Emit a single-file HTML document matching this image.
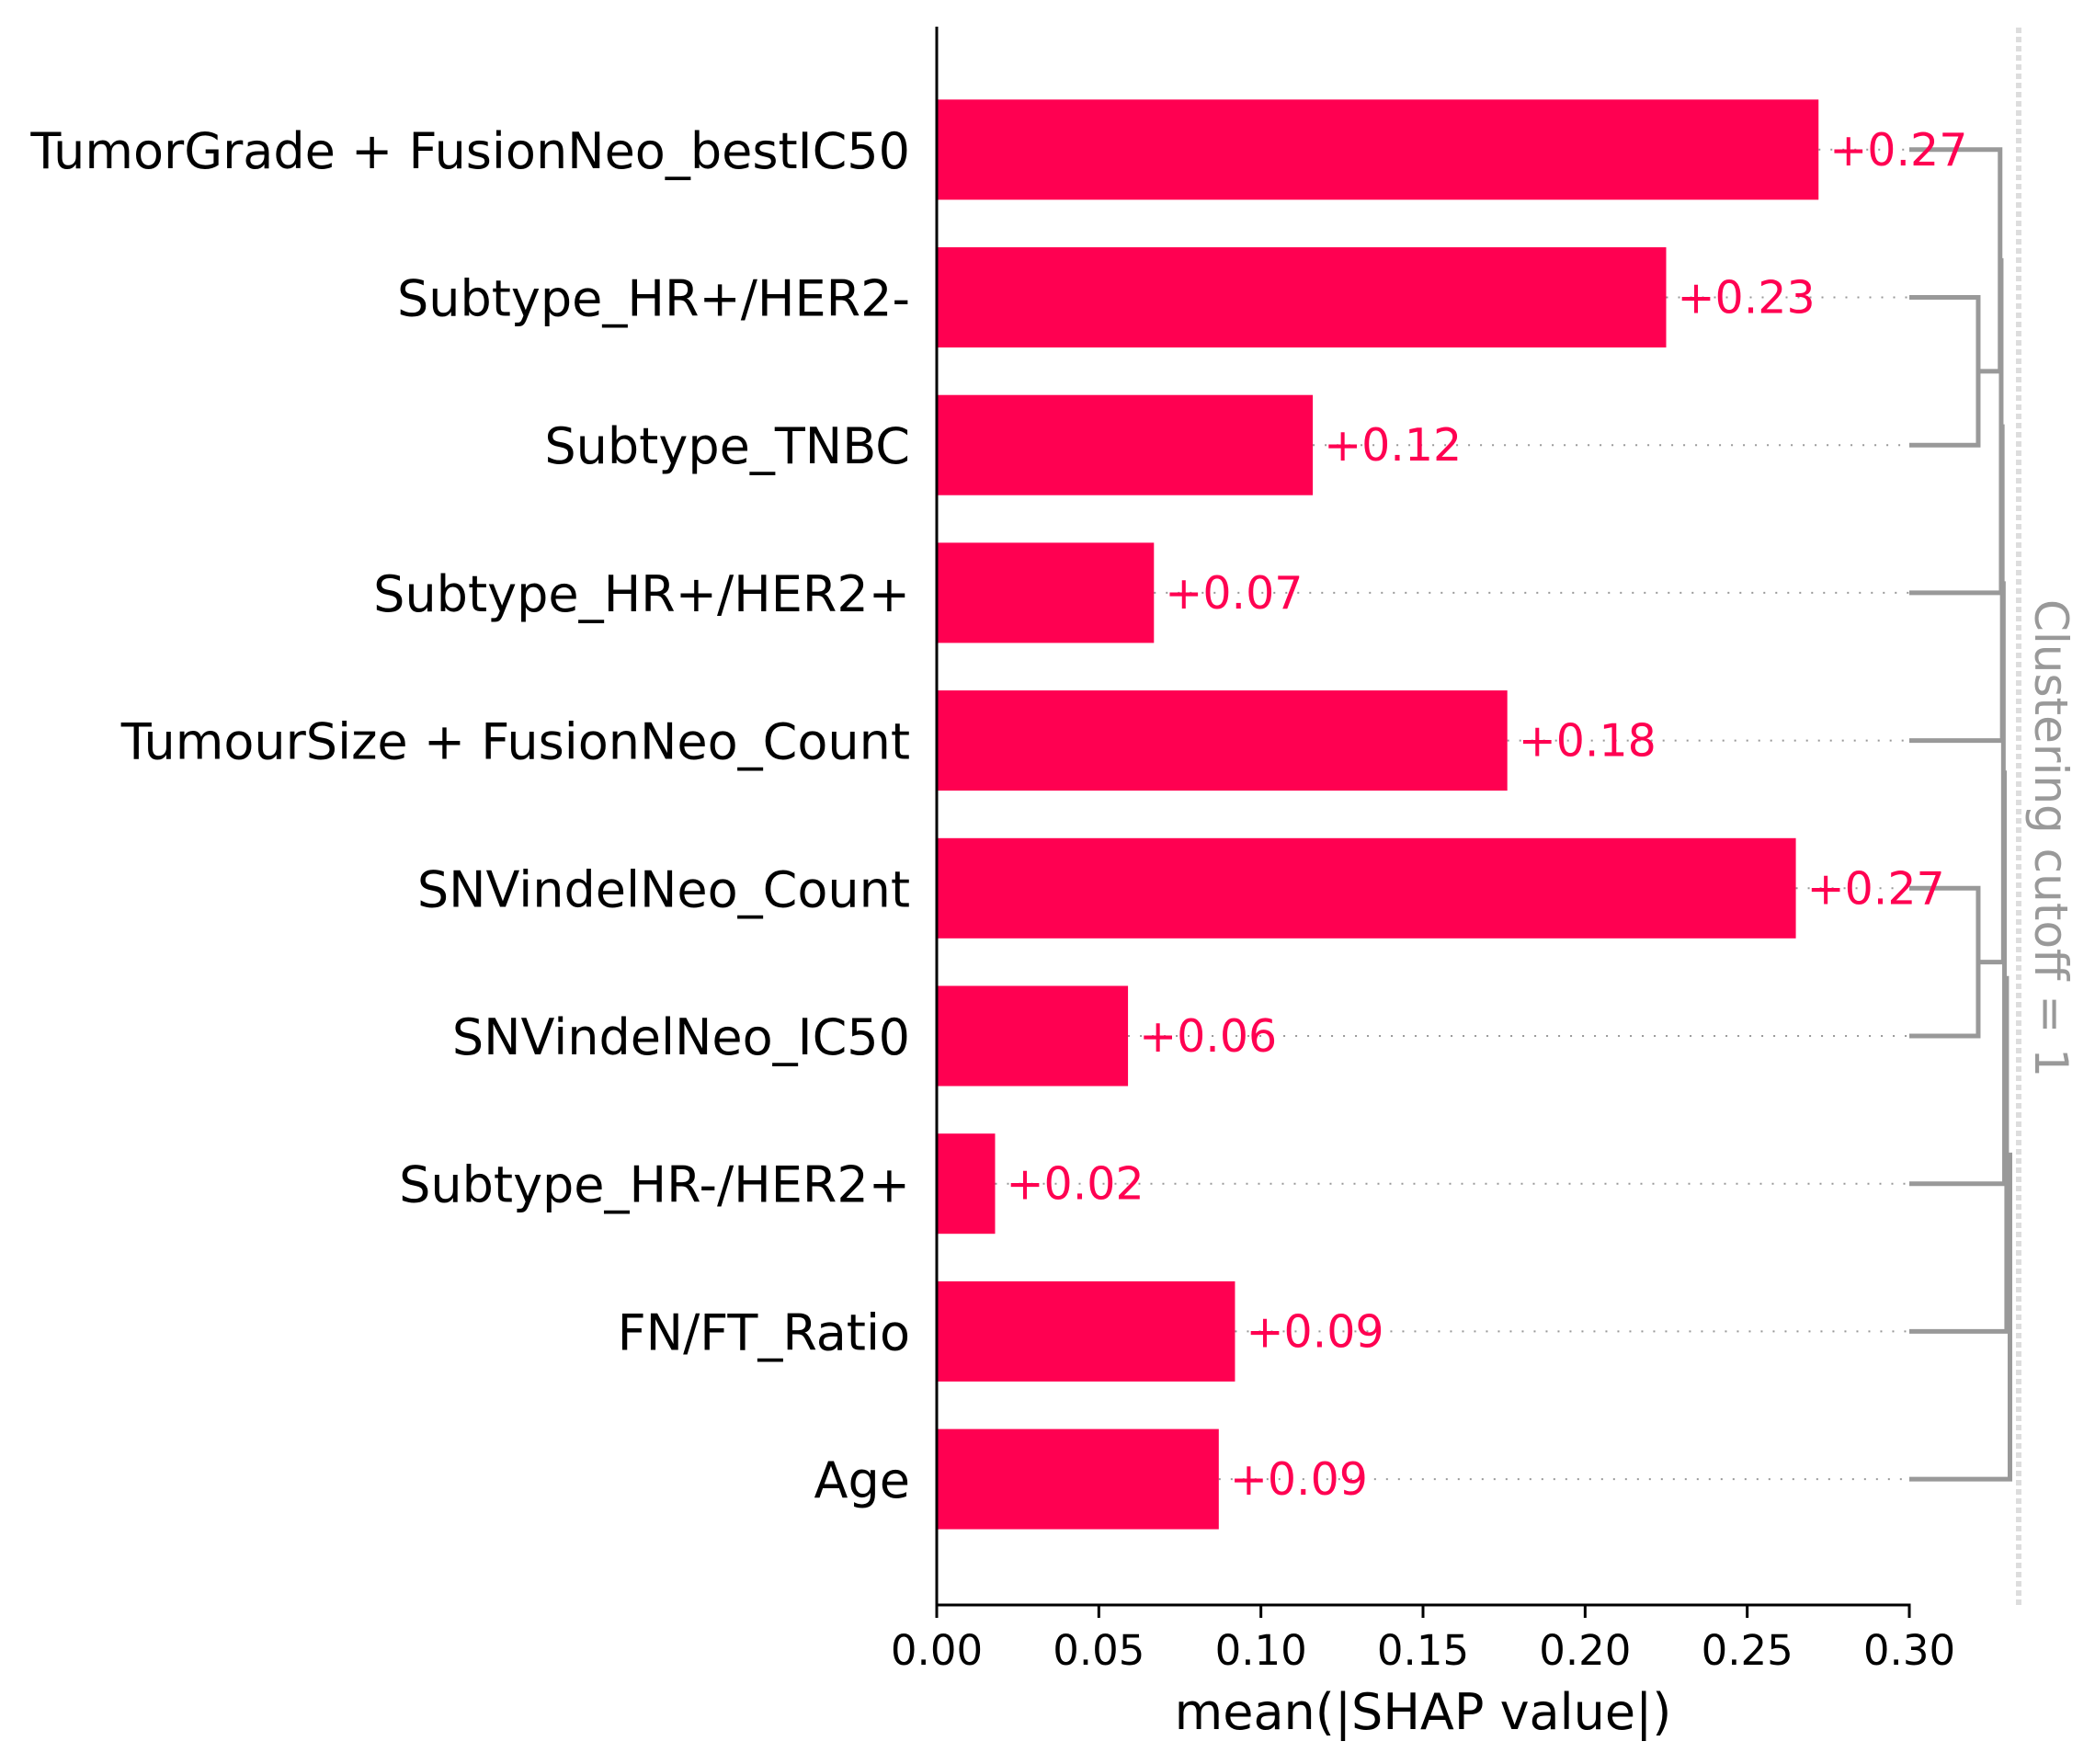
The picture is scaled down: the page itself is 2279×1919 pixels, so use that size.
<!DOCTYPE html>
<html><head><meta charset="utf-8"><style>
html,body{margin:0;padding:0;background:#fff;}
svg{display:block;font-family:"DejaVu Sans","Liberation Sans",sans-serif;}
</style></head><body>
<svg id="chart" width="2279" height="1919" viewBox="0 0 2279 1919" xmlns="http://www.w3.org/2000/svg">
<rect width="2279" height="1919" fill="#fff"/>
<g id="dendro"></g>
<g id="guides"></g>
<g id="bars"></g>
<g id="axes"></g>
</svg>
<script>
const features = ["TumorGrade + FusionNeo_bestIC50","Subtype_HR+/HER2-","Subtype_TNBC","Subtype_HR+/HER2+","TumourSize + FusionNeo_Count","SNVindelNeo_Count","SNVindelNeo_IC50","Subtype_HR-/HER2+","FN/FT_Ratio","Age"];
const values = [0.272, 0.225, 0.116, 0.067, 0.176, 0.265, 0.059, 0.018, 0.092, 0.087];
const xTicks = [0, 0.05, 0.10, 0.15, 0.20, 0.25, 0.30];
const xTickLabels = ["0.00","0.05","0.10","0.15","0.20","0.25","0.30"];
// dendrogram merges: [left node, right node, distance]; leaves 0..9, new nodes 10+
const merges = [[1,2,0.63],[0,10,0.83],[5,6,0.63],[11,3,0.84],[13,4,0.85],[14,12,0.86],[15,7,0.87],[16,8,0.89],[17,9,0.92]];
const cutoff = 1;

const NS="http://www.w3.org/2000/svg";
const X0=1019, X1=2077, XMAX=0.30;
const xs=v=>X0+(v/XMAX)*(X1-X0);
const ROW0=162.8, ROWH=160.7;
const ys=i=>ROW0+i*ROWH;
const BARH=109;
const DX0=2077, DX1=2196;
const dx=d=>DX0+(d/cutoff)*(DX1-DX0);
function mk(tag,attrs,parent,text){const e=document.createElementNS(NS,tag);for(const k in attrs)e.setAttribute(k,attrs[k]);if(text!==undefined)e.textContent=text;parent.appendChild(e);return e;}

const gG=document.getElementById('guides'), gB=document.getElementById('bars'), gA=document.getElementById('axes'), gD=document.getElementById('dendro');

let cl=mk('line',{x1:dx(cutoff),x2:dx(cutoff),y1:30,y2:1746,stroke:'#dddddd','stroke-width':6,'stroke-dasharray':'6 4'},gD);


let ct=mk('text',{x:0,y:0,transform:`translate(${dx(cutoff)+18},912) rotate(90)`,'text-anchor':'middle','font-size':50,fill:'#999999'},gD,'Clustering cutoff = '+cutoff);



const pos={}, ht={};
for(let i=0;i<features.length;i++){pos[i]=ys(i);ht[i]=0;}
merges.forEach((m,k)=>{
  const id=features.length+k, a=m[0], b=m[1], d=m[2];
  const xa=dx(ht[a]), xb=dx(ht[b]), xm=dx(d);
  const p=mk('path',{d:`M${xa},${pos[a]} H${xm} V${pos[b]} H${xb}`,fill:'none',stroke:'#999999','stroke-width':5},gD);
  
  
  pos[id]=(pos[a]+pos[b])/2; ht[id]=d;
});

features.forEach((f,i)=>{
  const y=ys(i), v=values[i];
  const gl=mk('line',{x1:xs(v),x2:DX0,y1:y,y2:y,stroke:'#999999','stroke-width':2,'stroke-dasharray':'2 11'},gG);
  
  
  const r=mk('rect',{x:X0,y:y-BARH/2,width:xs(v)-X0,height:BARH,fill:'#ff0051'},gB);
  
  
  const vt=mk('text',{x:xs(v)+12,y:y+17,'font-size':49,fill:'#ff0051'},gB,'+'+v.toFixed(2));
  
  
  const lt=mk('text',{x:990,y:y+20,'font-size':54,fill:'#000','text-anchor':'end'},gA,f);
  
  
});

let ls=mk('line',{x1:X0,x2:X0,y1:29,y2:1747.5,stroke:'#000','stroke-width':3},gA);


let bs=mk('line',{x1:X0-1.5,x2:X1+1.5,y1:1746,y2:1746,stroke:'#000','stroke-width':3},gA);


xTicks.forEach((t,i)=>{
  const tl=mk('line',{x1:xs(t),x2:xs(t),y1:1746,y2:1760,stroke:'#000','stroke-width':3},gA);
  
  
  const tt=mk('text',{x:xs(t),y:1811,'font-size':45,'text-anchor':'middle',fill:'#000'},gA,xTickLabels[i]);
  
  
});
let xl=mk('text',{x:(X0+X1)/2,y:1881,'font-size':54,'text-anchor':'middle',fill:'#000'},gA,'mean(|SHAP value|)');


</script>
</body></html>
